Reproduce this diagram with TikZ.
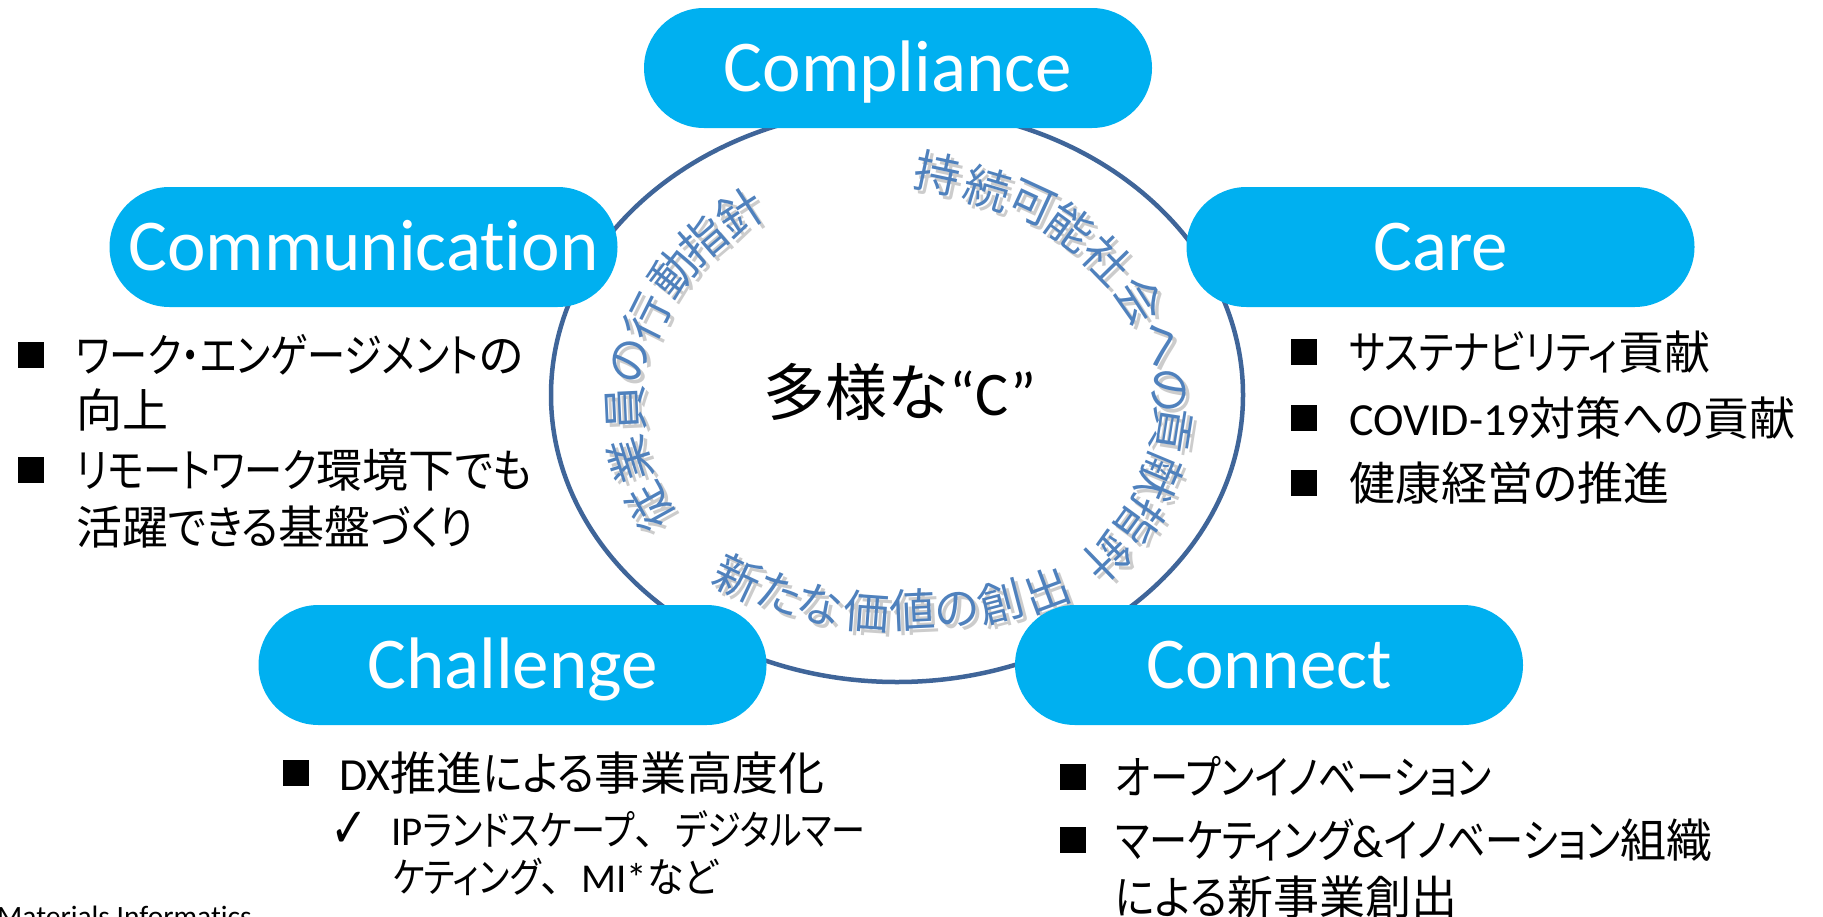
\documentclass[tikz,border=0pt]{standalone}
\usepackage{fontspec}
\setmainfont[Ligatures={NoCommon,NoContextual}]{Carlito}
\newfontfamily\jpfont[RawFeature=+palt]{Noto Sans CJK JP}
\newfontfamily\ktfont[RawFeature=+palt, FakeStretch=0.83]{Noto Sans CJK JP}
\newfontfamily\hgfont[RawFeature=+palt, FakeStretch=0.9]{Noto Sans CJK JP}
\newfontfamily\jpfull{Noto Sans CJK JP}
\newfontfamily\djvfont{DejaVu Sans}
\newcommand\kt[1]{{\ktfont #1}}
\newcommand\hg[1]{{\hgfont #1}}
\newcommand\lt[1]{{\rmfamily #1}}
\usetikzlibrary{shapes.geometric}
\definecolor{pillblue}{HTML}{00B0F0}
\definecolor{ringblue}{HTML}{3F6599}
\definecolor{arcblue}{HTML}{4F81BD}
\begin{document}
\begin{tikzpicture}[x=1pt,y=-1pt,
  pill/.style={fill=pillblue, rounded corners=60, minimum width=508, minimum height=120,
    inner sep=0, text=white, font=\fontsize{73}{80}\selectfont, text height=47pt, text depth=0pt},
  ring/.style={ellipse, draw=ringblue, line width=4.5, minimum width=692, minimum height=574, inner sep=0},
  arcch/.style={inner sep=0, text=arcblue, font=\jpfull\fontsize{46}{50}\selectfont, text height=35pt, text depth=0pt},
  arcsh/.style={inner sep=0, text=black, opacity=0.2, font=\jpfull\fontsize{46}{50}\selectfont, text height=35pt, text depth=0pt},
  li/.style={anchor=west, inner sep=0, font=\jpfont\fontsize{46}{50}\selectfont, text height=35pt, text depth=0pt},
  lii/.style={anchor=west, inner sep=0, font=\jpfont\fontsize{41}{45}\selectfont, text height=31pt, text depth=0pt},
  bul/.style={fill=black, minimum size=26, inner sep=0},
  chk/.style={inner sep=0, font=\djvfont\fontsize{56}{60}\selectfont, xscale=0.8, transform shape}
]
\fill[white] (0,0) rectangle (1823,916);
\useasboundingbox (0,0) rectangle (1823,916);

% ring
\node[ring] (ring) at (897,395) {};

% curved texts (with soft shadow)
\foreach \c/\x/\y/\r [count=\i] in {従/650/507/119, 業/630/460/107.5, 員/625/408/92.6, の/628/360/77.5,
   行/647/317/63.4, 動/673/273/51.9, 指/703/240/40.6, 針/740/212/33}{
  \node[arcsh, rotate=\r] (sla\i) at (\x+4,\y+4) {\c};
  \node[arcch, rotate=\r] (la\i) at (\x,\y) {\c};
}
\foreach \c/\x/\y/\r [count=\i] in {持/938/173/-12, 続/987/188/-16.4, 可/1033/202/-24.8, 能/1070/227/-35.9,
   社/1107/260/-45.7, 会/1140/300/-57.4, へ/1163/343/-72.4, の/1170/390/-86.3,
   貢/1172/430/-98.9, 献/1160/477/-112.7, 指/1140/520/-126, 針/1107/557/-136}{
  \node[arcsh, rotate=\r] (sra\i) at (\x+4,\y+4) {\c};
  \node[arcch, rotate=\r] (ra\i) at (\x,\y) {\c};
}
\foreach \c/\x/\y/\r [count=\i] in {新/738/577/-25.2, た/780/593/-19.9, な/820/605/-12.8, 価/867/612/-4.1,
   値/913/610/2.6, の/957/608/7.8, 創/1000/602/14.6, 出/1047/590/20.4}{
  \node[arcsh, rotate=\r] (sba\i) at (\x+4,\y+4) {\c};
  \node[arcch, rotate=\r] (ba\i) at (\x,\y) {\c};
}

% centre text
\node[inner sep=0, font=\fontsize{62}{70}\selectfont, text height=47pt, text depth=0pt] (centre) at (900,392)
  {{\jpfull 多様な}“C”};

% pills
\node[pill] (compliance) at (898,68) {Compliance};
\node[pill] (communication) at (363.5,247) {Communication};
\node[pill] (care) at (1440.5,247) {Care};
\node[pill] (challenge) at (512.5,665) {Challenge};
\node[pill] (connect) at (1269,665) {Connect};

% Communication list
\node[bul] (b1) at (30.5,355) {};
\node[li] (t1) at (76,355) {\kt{ワーク・エンゲージメント}の};
\node[li] (t2) at (76,410) {向上};
\node[bul] (b2) at (30.5,470) {};
\node[li] (t3) at (76,470) {\kt{リモートワーク}環境下\hg{でも}};
\node[li] (t4) at (76,527) {活躍\hg{できる}基盤\hg{づくり}};

% Care list
\node[bul] (b3) at (1304,352) {};
\node[li] (t5) at (1349,352) {\kt{サステナビリティ}貢献};
\node[bul] (b4) at (1304,418) {};
\node[li] (t6) at (1349,418) {\lt{COVID-19}対策\hg{への}貢献};
\node[bul] (b5) at (1304,483) {};
\node[li] (t7) at (1349,483) {健康経営の推進};

% Challenge list
\node[bul] (b6) at (296,773) {};
\node[li] (t8) at (339,773) {\lt{DX}推進\hg{による}事業高度化};
\node[chk] (c1) at (349,830) {✓};
\node[lii] (t9) at (391,830) {\lt{IP}\kt{ランドスケープ}{\jpfull 、}\kt{デジタルマー}};
\node[lii] (t10) at (393,877) {\kt{ケティング}{\jpfull 、}\lt{MI*}\hg{など}};

% Connect list
\node[bul] (b7) at (1072.5,777) {};
\node[li] (t11) at (1115,777) {\kt{オープンイノベーション}};
\node[bul] (b8) at (1072.5,840) {};
\node[li] (t12) at (1115,840) {\kt{マーケティング}\lt{\&}\kt{イノベーション}組織};
\node[li] (t13) at (1115,897) {\hg{による}新事業創出};

% footnote
\node[anchor=base west, inner sep=0, font=\fontsize{29.5}{32}\selectfont] (foot) at (-3,926) {Materials Informatics};
\end{tikzpicture}
\end{document}
